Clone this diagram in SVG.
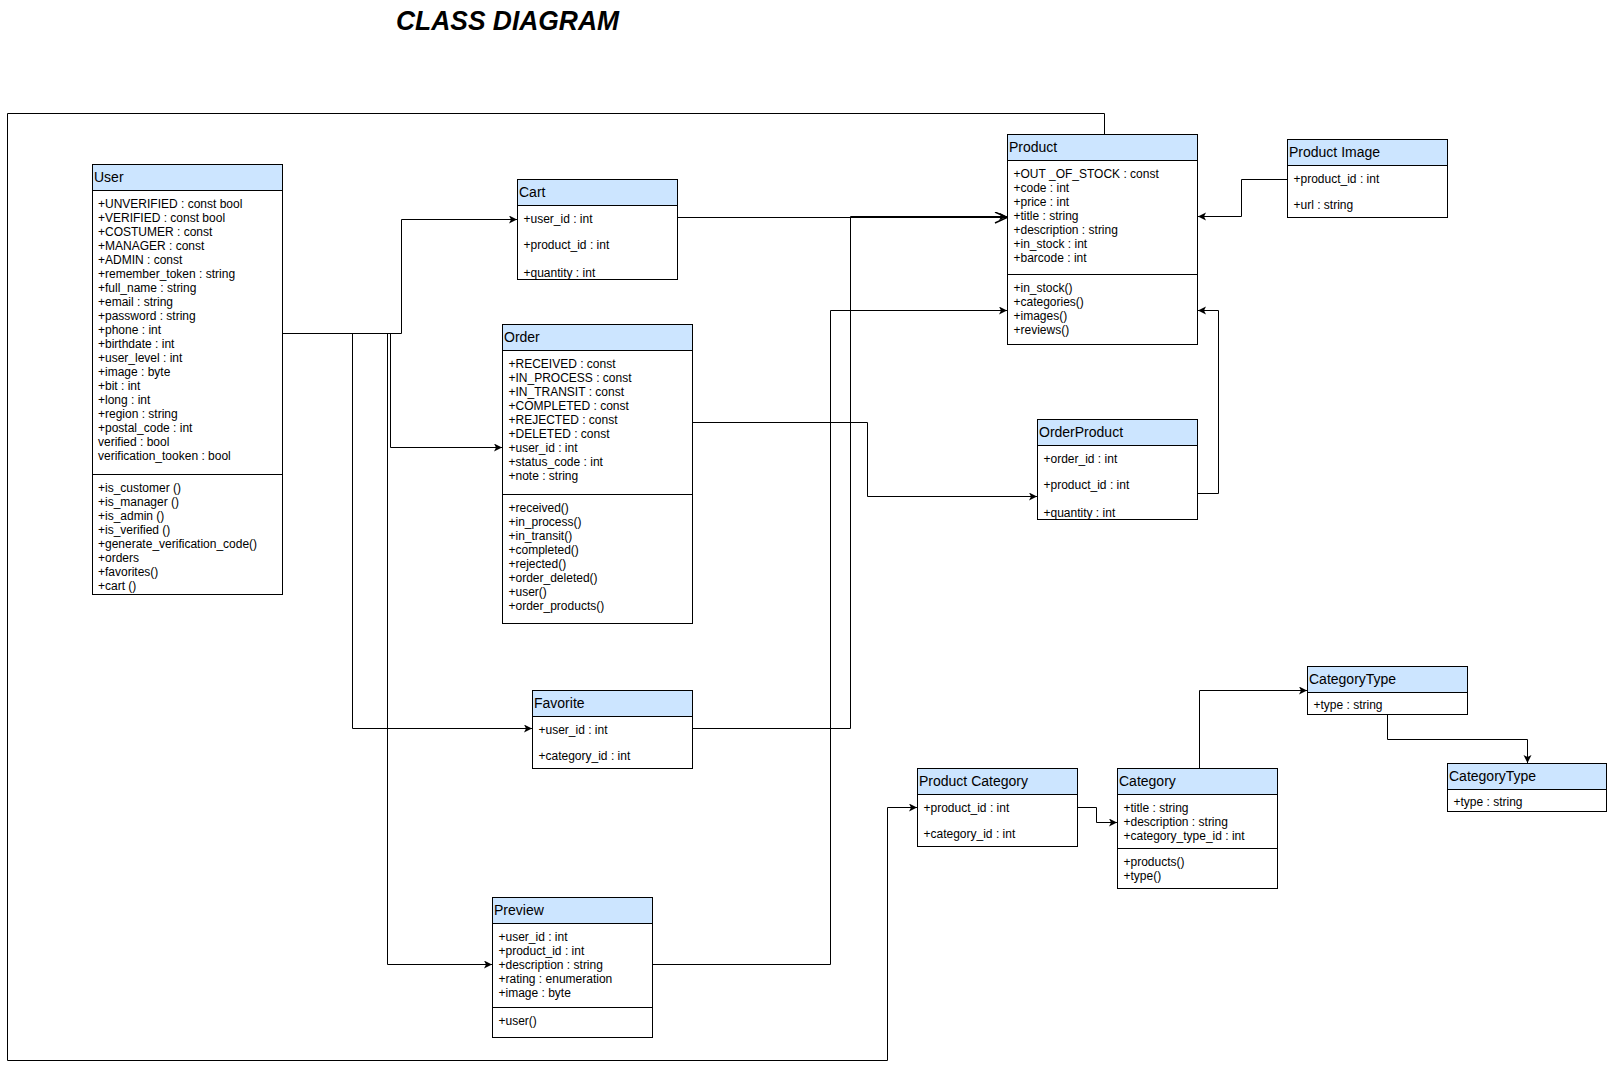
<svg xmlns="http://www.w3.org/2000/svg" width="1608" height="1073" viewBox="0 0 1608 1073">
<style>
  .box { fill: #ffffff; stroke: #000000; stroke-width: 1; }
  .hdr { fill: #cce5ff; stroke: #000000; stroke-width: 1; }
  .div { stroke: #000000; stroke-width: 1; fill: none; }
  .ttl { font-family: "Liberation Sans", Arial, sans-serif; font-size: 14px; fill: #000000; }
  .txt { font-family: "Liberation Sans", Arial, sans-serif; font-size: 12px; fill: #000000; }
  .con { fill: none; stroke: #000000; stroke-width: 1; }
  .head { font-family: "Liberation Sans", Arial, sans-serif; font-size: 28px; font-weight: bold; font-style: italic; fill: #000000; }
</style>
<defs>
  <marker id="arr" markerUnits="userSpaceOnUse" markerWidth="10" markerHeight="10" refX="8" refY="4" orient="auto">
    <path d="M0,0 L8,4 L0,8 L2,4 Z" fill="#000000"/>
  </marker>
  <marker id="open" markerUnits="userSpaceOnUse" markerWidth="16" markerHeight="14" refX="13" refY="6" orient="auto">
    <path d="M1,0.5 L13,6 L1,11.5" fill="none" stroke="#000000" stroke-width="1.5"/>
  </marker>
</defs>
<rect width="1608" height="1073" fill="#ffffff"/>

<text class="head" x="396" y="29.5" textLength="223" lengthAdjust="spacingAndGlyphs">CLASS DIAGRAM</text>

<g id="connectors">
  <path class="con" d="M1104.5,134 V113.5 H7.5 V1060.5 H887.5 V807.5 H917" marker-end="url(#arr)"/>
  <path class="con" d="M282,333.5 H401.5 V219.5 H517" marker-end="url(#arr)"/>
  <path class="con" d="M282,333.5 H390.5 V447.5 H502" marker-end="url(#arr)"/>
  <path class="con" d="M282,333.5 H352.5 V728.5 H532" marker-end="url(#arr)"/>
  <path class="con" d="M282,333.5 H387.5 V964.5 H492" marker-end="url(#arr)"/>
  <path class="con" d="M677,217.5 H1007" marker-end="url(#open)"/>
  <path class="con" d="M692,728.5 H850.5 V216.5 H1007" marker-end="url(#arr)"/>
  <path class="con" d="M652,964.5 H830.5 V310.5 H1007" marker-end="url(#arr)"/>
  <path class="con" d="M692,422.5 H867.5 V496.5 H1037" marker-end="url(#arr)"/>
  <path class="con" d="M1198,493.5 H1218.5 V310.5 H1198" marker-end="url(#arr)"/>
  <path class="con" d="M1287,179.5 H1241.5 V216.5 H1198" marker-end="url(#arr)"/>
  <path class="con" d="M1077,807.5 H1096.5 V822.5 H1117" marker-end="url(#arr)"/>
  <path class="con" d="M1199.5,768 V690.5 H1307" marker-end="url(#arr)"/>
  <path class="con" d="M1387.5,715 V739.5 H1527.5 V763" marker-end="url(#arr)"/>
</g>

<g id="user">
  <rect class="box" x="92.5" y="164.5" width="190" height="430"/>
  <rect class="hdr" x="92.5" y="164.5" width="190" height="26"/>
  <line class="div" x1="92.5" y1="474.5" x2="282.5" y2="474.5"/>
  <text class="ttl" x="94" y="182">User</text>
  <text class="txt">
    <tspan x="98" y="207.5">+UNVERIFIED : const bool</tspan>
    <tspan x="98" y="221.5">+VERIFIED : const bool</tspan>
    <tspan x="98" y="235.5">+COSTUMER : const</tspan>
    <tspan x="98" y="249.5">+MANAGER : const</tspan>
    <tspan x="98" y="263.5">+ADMIN : const</tspan>
    <tspan x="98" y="277.5">+remember_token : string</tspan>
    <tspan x="98" y="291.5">+full_name : string</tspan>
    <tspan x="98" y="305.5">+email : string</tspan>
    <tspan x="98" y="319.5">+password : string</tspan>
    <tspan x="98" y="333.5">+phone : int</tspan>
    <tspan x="98" y="347.5">+birthdate : int</tspan>
    <tspan x="98" y="361.5">+user_level : int</tspan>
    <tspan x="98" y="375.5">+image : byte</tspan>
    <tspan x="98" y="389.5">+bit : int</tspan>
    <tspan x="98" y="403.5">+long : int</tspan>
    <tspan x="98" y="417.5">+region : string</tspan>
    <tspan x="98" y="431.5">+postal_code : int</tspan>
    <tspan x="98" y="445.5">verified : bool</tspan>
    <tspan x="98" y="459.5">verification_tooken : bool</tspan>
  </text>
  <text class="txt">
    <tspan x="98" y="492">+is_customer ()</tspan>
    <tspan x="98" y="506">+is_manager ()</tspan>
    <tspan x="98" y="520">+is_admin ()</tspan>
    <tspan x="98" y="534">+is_verified ()</tspan>
    <tspan x="98" y="548">+generate_verification_code()</tspan>
    <tspan x="98" y="562">+orders</tspan>
    <tspan x="98" y="576">+favorites()</tspan>
    <tspan x="98" y="590">+cart ()</tspan>
  </text>
</g>

<g id="cart">
  <rect class="box" x="517.5" y="179.5" width="160" height="100"/>
  <rect class="hdr" x="517.5" y="179.5" width="160" height="26"/>
  <text class="ttl" x="519" y="197">Cart</text>
  <text class="txt">
    <tspan x="523.5" y="223">+user_id : int</tspan>
    <tspan x="523.5" y="249">+product_id : int</tspan>
    <tspan x="523.5" y="276.5">+quantity : int</tspan>
  </text>
  <line class="div" x1="517.5" y1="279.5" x2="677.5" y2="279.5"/>
</g>

<g id="order">
  <rect class="box" x="502.5" y="324.5" width="190" height="299"/>
  <rect class="hdr" x="502.5" y="324.5" width="190" height="26"/>
  <line class="div" x1="502.5" y1="494.5" x2="692.5" y2="494.5"/>
  <text class="ttl" x="504" y="342">Order</text>
  <text class="txt">
    <tspan x="508.5" y="368">+RECEIVED : const</tspan>
    <tspan x="508.5" y="382">+IN_PROCESS : const</tspan>
    <tspan x="508.5" y="396">+IN_TRANSIT : const</tspan>
    <tspan x="508.5" y="410">+COMPLETED : const</tspan>
    <tspan x="508.5" y="424">+REJECTED : const</tspan>
    <tspan x="508.5" y="438">+DELETED : const</tspan>
    <tspan x="508.5" y="452">+user_id : int</tspan>
    <tspan x="508.5" y="466">+status_code : int</tspan>
    <tspan x="508.5" y="480">+note : string</tspan>
  </text>
  <text class="txt">
    <tspan x="508.5" y="512">+received()</tspan>
    <tspan x="508.5" y="526">+in_process()</tspan>
    <tspan x="508.5" y="540">+in_transit()</tspan>
    <tspan x="508.5" y="554">+completed()</tspan>
    <tspan x="508.5" y="568">+rejected()</tspan>
    <tspan x="508.5" y="582">+order_deleted()</tspan>
    <tspan x="508.5" y="596">+user()</tspan>
    <tspan x="508.5" y="610">+order_products()</tspan>
  </text>
</g>

<g id="product">
  <rect class="box" x="1007.5" y="134.5" width="190" height="210"/>
  <rect class="hdr" x="1007.5" y="134.5" width="190" height="26"/>
  <line class="div" x1="1007.5" y1="274.5" x2="1197.5" y2="274.5"/>
  <text class="ttl" x="1009" y="152">Product</text>
  <text class="txt">
    <tspan x="1013.5" y="178">+OUT _OF_STOCK : const</tspan>
    <tspan x="1013.5" y="192">+code : int</tspan>
    <tspan x="1013.5" y="206">+price : int</tspan>
    <tspan x="1013.5" y="220">+title : string</tspan>
    <tspan x="1013.5" y="234">+description : string</tspan>
    <tspan x="1013.5" y="248">+in_stock : int</tspan>
    <tspan x="1013.5" y="262">+barcode : int</tspan>
  </text>
  <text class="txt">
    <tspan x="1013.5" y="292">+in_stock()</tspan>
    <tspan x="1013.5" y="306">+categories()</tspan>
    <tspan x="1013.5" y="320">+images()</tspan>
    <tspan x="1013.5" y="334">+reviews()</tspan>
  </text>
</g>

<g id="product-image">
  <rect class="box" x="1287.5" y="139.5" width="160" height="78"/>
  <rect class="hdr" x="1287.5" y="139.5" width="160" height="26"/>
  <text class="ttl" x="1289" y="157">Product Image</text>
  <text class="txt">
    <tspan x="1293.5" y="183">+product_id : int</tspan>
    <tspan x="1293.5" y="209">+url : string</tspan>
  </text>
</g>

<g id="order-product">
  <rect class="box" x="1037.5" y="419.5" width="160" height="100"/>
  <rect class="hdr" x="1037.5" y="419.5" width="160" height="26"/>
  <text class="ttl" x="1039" y="437">OrderProduct</text>
  <text class="txt">
    <tspan x="1043.5" y="463">+order_id : int</tspan>
    <tspan x="1043.5" y="489">+product_id : int</tspan>
    <tspan x="1043.5" y="516.5">+quantity : int</tspan>
  </text>
  <line class="div" x1="1037.5" y1="519.5" x2="1197.5" y2="519.5"/>
</g>

<g id="favorite">
  <rect class="box" x="532.5" y="690.5" width="160" height="78"/>
  <rect class="hdr" x="532.5" y="690.5" width="160" height="26"/>
  <text class="ttl" x="534" y="708">Favorite</text>
  <text class="txt">
    <tspan x="538.5" y="734">+user_id : int</tspan>
    <tspan x="538.5" y="760">+category_id : int</tspan>
  </text>
</g>

<g id="preview">
  <rect class="box" x="492.5" y="897.5" width="160" height="140"/>
  <rect class="hdr" x="492.5" y="897.5" width="160" height="26"/>
  <line class="div" x1="492.5" y1="1007.5" x2="652.5" y2="1007.5"/>
  <text class="ttl" x="494" y="915">Preview</text>
  <text class="txt">
    <tspan x="498.5" y="941">+user_id : int</tspan>
    <tspan x="498.5" y="955">+product_id : int</tspan>
    <tspan x="498.5" y="969">+description : string</tspan>
    <tspan x="498.5" y="983">+rating : enumeration</tspan>
    <tspan x="498.5" y="997">+image : byte</tspan>
  </text>
  <text class="txt" x="498.5" y="1025">+user()</text>
</g>

<g id="product-category">
  <rect class="box" x="917.5" y="768.5" width="160" height="78"/>
  <rect class="hdr" x="917.5" y="768.5" width="160" height="26"/>
  <text class="ttl" x="919" y="786">Product Category</text>
  <text class="txt">
    <tspan x="923.5" y="812">+product_id : int</tspan>
    <tspan x="923.5" y="838">+category_id : int</tspan>
  </text>
</g>

<g id="category">
  <rect class="box" x="1117.5" y="768.5" width="160" height="120"/>
  <rect class="hdr" x="1117.5" y="768.5" width="160" height="26"/>
  <line class="div" x1="1117.5" y1="848.5" x2="1277.5" y2="848.5"/>
  <text class="ttl" x="1119" y="786">Category</text>
  <text class="txt">
    <tspan x="1123.5" y="812">+title : string</tspan>
    <tspan x="1123.5" y="826">+description : string</tspan>
    <tspan x="1123.5" y="840">+category_type_id : int</tspan>
  </text>
  <text class="txt">
    <tspan x="1123.5" y="865.5">+products()</tspan>
    <tspan x="1123.5" y="879.5">+type()</tspan>
  </text>
</g>

<g id="category-type-1">
  <rect class="box" x="1307.5" y="666.5" width="160" height="48"/>
  <rect class="hdr" x="1307.5" y="666.5" width="160" height="26"/>
  <text class="ttl" x="1309" y="684">CategoryType</text>
  <text class="txt" x="1313.5" y="709">+type : string</text>
</g>

<g id="category-type-2">
  <rect class="box" x="1447.5" y="763.5" width="159" height="48"/>
  <rect class="hdr" x="1447.5" y="763.5" width="159" height="26"/>
  <text class="ttl" x="1449" y="781">CategoryType</text>
  <text class="txt" x="1453.5" y="806">+type : string</text>
</g>
</svg>
